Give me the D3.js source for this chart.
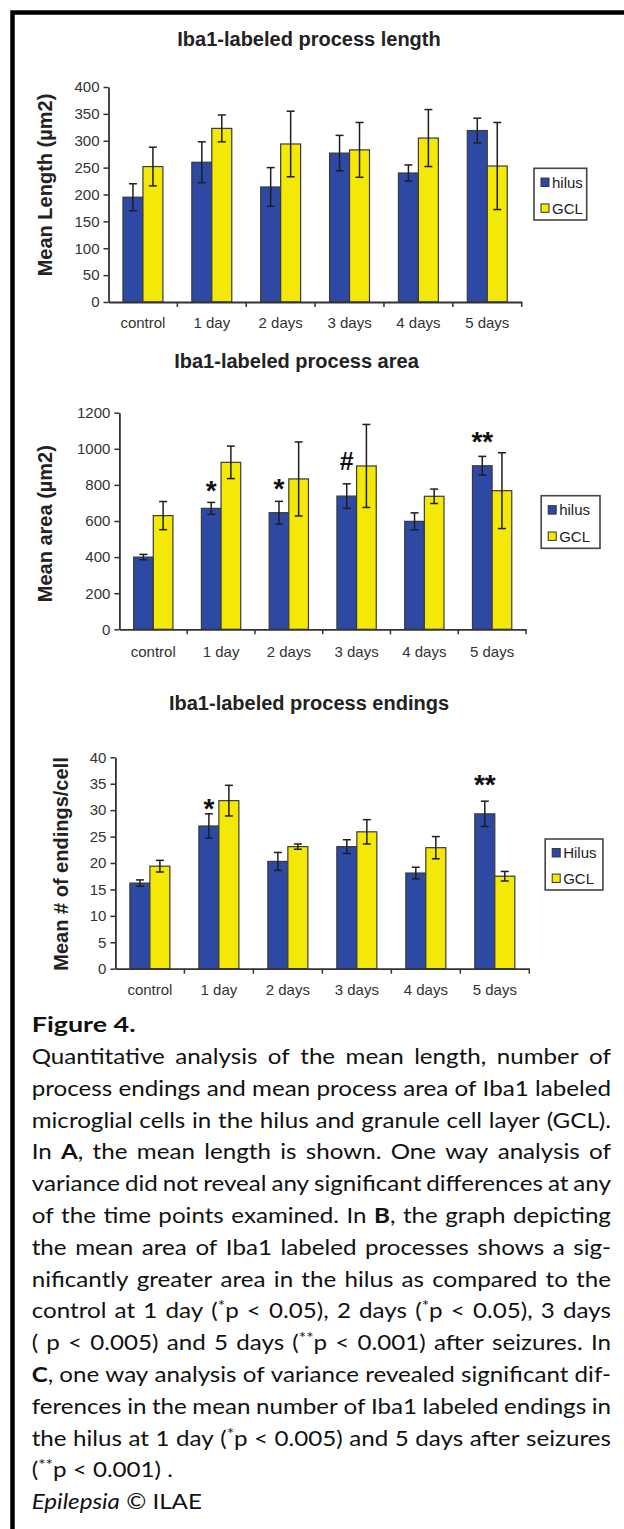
<!DOCTYPE html>
<html><head><meta charset="utf-8">
<script src="https://cdn.jsdelivr.net/npm/d3@7"></script>
<style>
html,body{margin:0;padding:0;background:#fff;}
svg{display:block;}
</style></head><body>
<svg id="fig" width="624" height="1529"></svg>
<script>
// ---------- DATA ----------
const categories = ["control", "1 day", "2 days", "3 days", "4 days", "5 days"];

// Panel A: process length
const lengthHilus    = [195, 260, 214, 277, 240, 319];
const lengthHilusErr = [25, 38, 36, 33, 15, 23];
const lengthGCL      = [252, 323, 294, 283, 305, 253];
const lengthGCLErr   = [36, 25, 61, 51, 53, 81];
const lengthTicks    = [0, 50, 100, 150, 200, 250, 300, 350, 400];
const lengthLegend   = ["hilus", "GCL"];
const lengthMarks    = [];

// Panel B: process area
const areaHilus    = [400, 670, 646, 738, 598, 906];
const areaHilusErr = [15, 33, 63, 68, 47, 52];
const areaGCL      = [630, 925, 833, 905, 737, 768];
const areaGCLErr   = [78, 90, 205, 230, 40, 210];
const areaTicks    = [0, 200, 400, 600, 800, 1000, 1200];
const areaLegend   = ["hilus", "GCL"];
const areaMarks    = [
  {cat: "1 day", label: "*", value: 810},
  {cat: "2 days", label: "*", value: 818},
  {cat: "3 days", label: "#", value: 935},
  {cat: "5 days", label: "**", value: 1080}
];

// Panel C: process endings
const endHilus    = [16.2, 27.0, 20.3, 23.1, 18.1, 29.3];
const endHilusErr = [0.6, 2.3, 1.7, 1.3, 1.1, 2.4];
const endGCL      = [19.4, 31.8, 23.1, 25.9, 22.9, 17.5];
const endGCLErr   = [1.1, 2.9, 0.5, 2.3, 2.1, 0.9];
const endTicks    = [0, 5, 10, 15, 20, 25, 30, 35, 40];
const endLegend   = ["Hilus", "GCL"];
const endMarks    = [
  {cat: "1 day", label: "*", value: 31.6},
  {cat: "5 days", label: "**", value: 36.3}
];

// Caption
const captionTitle = "Figure 4.";
const captionLines = [
  "Quantitative analysis of the mean length, number of",
  "process endings and mean process area of Iba1 labeled",
  "microglial cells in the hilus and granule cell layer (GCL).",
  "In {b:A}, the mean length is shown. One way analysis of",
  "variance did not reveal any significant differences at any",
  "of the time points examined. In {b:B}, the graph depicting",
  "the mean area of Iba1 labeled processes shows a sig-",
  "nificantly greater area in the hilus as compared to the",
  "control at 1 day ({s:*}p < 0.05), 2 days ({s:*}p < 0.05), 3 days",
  "( p < 0.005) and 5 days ({s:**}p < 0.001) after seizures. In",
  "{b:C}, one way analysis of variance revealed significant dif-",
  "ferences in the mean number of Iba1 labeled endings in",
  "the hilus at 1 day ({s:*}p < 0.005) and 5 days after seizures",
  "({s:**}p < 0.001) .",
  "{i:Epilepsia} © ILAE"
];
const justifiedCount = 13;

// ---------- STYLE ----------
const FONT = "'Liberation Sans', Arial, sans-serif";
const CAPFONT = "Lato, 'Noto Sans', sans-serif";
const BLUE = "#2d49a3";
const YELLOW = "#f4e906";
const INK = "#222";

const svg = d3.select("#fig");
svg.append("rect").attr("width", 624).attr("height", 1529).attr("fill", "#fff");

// frame
svg.append("path").attr("d", "M12.5,1529V12.5H624")
  .attr("fill", "none").attr("stroke", "#000").attr("stroke-width", 4.5);

const panels = [
  {title: "Iba1-labeled process length", titleX: 309, titleY: 46,
   ylabel: "Mean Length (\u00b5m2)", ylabelX: 51.5, ylabelY: 185,
   left: 108.5, right: 521.7, yBottom: 302, yTop: 87, max: 400, ticks: lengthTicks,
   hilus: lengthHilus, hilusErr: lengthHilusErr, gcl: lengthGCL, gclErr: lengthGCLErr,
   xlabelY: 328, legendLabels: lengthLegend, legend: {x: 534, y: 168.3, w: 52.7, h: 51.7},
   marks: lengthMarks},
  {title: "Iba1-labeled process area", titleX: 296.5, titleY: 367.5,
   ylabel: "Mean area (\u00b5m2)", ylabelX: 51.5, ylabelY: 523.7,
   left: 119.4, right: 526, yBottom: 629.3, yTop: 412.7, max: 1200, ticks: areaTicks,
   hilus: areaHilus, hilusErr: areaHilusErr, gcl: areaGCL, gclErr: areaGCLErr,
   xlabelY: 657, legendLabels: areaLegend, legend: {x: 541.2, y: 495.7, w: 58.8, h: 52.6},
   marks: areaMarks},
  {title: "Iba1-labeled process endings", titleX: 309, titleY: 710,
   ylabel: "Mean # of endings/cell", ylabelX: 67.5, ylabelY: 864,
   left: 115.4, right: 529.3, yBottom: 968.7, yTop: 757.3, max: 40, ticks: endTicks,
   hilus: endHilus, hilusErr: endHilusErr, gcl: endGCL, gclErr: endGCLErr,
   xlabelY: 995, legendLabels: endLegend, legend: {x: 545.2, y: 839, w: 57.7, h: 51},
   marks: endMarks}
];

function drawPanel(cfg) {
  const g = svg.append("g");
  const x = d3.scaleBand().domain(categories).range([cfg.left, cfg.right]).padding(0);
  const y = d3.scaleLinear().domain([0, cfg.max]).range([cfg.yBottom, cfg.yTop]);
  const bw = x.bandwidth();
  const barW = bw * 0.29;

  g.append("text").attr("x", cfg.titleX).attr("y", cfg.titleY)
    .attr("text-anchor", "middle").attr("font-family", FONT)
    .attr("font-weight", "bold").attr("font-size", 20).attr("fill", INK)
    .text(cfg.title);

  g.append("text")
    .attr("transform", `translate(${cfg.ylabelX},${cfg.ylabelY}) rotate(-90)`)
    .attr("text-anchor", "middle").attr("font-family", FONT)
    .attr("font-weight", "bold").attr("font-size", 20).attr("fill", INK)
    .text(cfg.ylabel);

  const series = [
    {vals: cfg.hilus, errs: cfg.hilusErr, color: BLUE, off: -1},
    {vals: cfg.gcl, errs: cfg.gclErr, color: YELLOW, off: 0}
  ];

  series.forEach(s => {
    const d = categories.map((c, i) => ({c, v: s.vals[i], e: s.errs[i]}));
    g.append("g").selectAll("rect").data(d).enter().append("rect")
      .attr("x", k => x(k.c) + bw / 2 + s.off * barW)
      .attr("y", k => y(k.v))
      .attr("width", barW)
      .attr("height", k => y(0) - y(k.v))
      .attr("fill", s.color).attr("stroke", "#3a3a3a").attr("stroke-width", 1.2);
  });

  series.forEach(s => {
    const d = categories.map((c, i) => ({c, v: s.vals[i], e: s.errs[i]}));
    const eg = g.append("g").attr("stroke", "#1e1e1e").attr("stroke-width", 1.5);
    const cx = k => x(k.c) + bw / 2 + s.off * barW + barW / 2;
    eg.selectAll(".v").data(d).enter().append("line")
      .attr("x1", cx).attr("x2", cx)
      .attr("y1", k => y(k.v + k.e)).attr("y2", k => y(k.v - k.e));
    eg.selectAll(".t").data(d).enter().append("line")
      .attr("x1", k => cx(k) - 4).attr("x2", k => cx(k) + 4)
      .attr("y1", k => y(k.v + k.e)).attr("y2", k => y(k.v + k.e));
    eg.selectAll(".b").data(d).enter().append("line")
      .attr("x1", k => cx(k) - 4).attr("x2", k => cx(k) + 4)
      .attr("y1", k => y(k.v - k.e)).attr("y2", k => y(k.v - k.e));
  });

  const ya = g.append("g").attr("transform", `translate(${cfg.left},0)`)
    .call(d3.axisLeft(y).tickValues(cfg.ticks).tickSize(5).tickSizeOuter(0)
      .tickPadding(4).tickFormat(d3.format("d")));
  ya.attr("font-family", FONT).attr("font-size", 15);
  ya.select(".domain").attr("stroke", "#333").attr("stroke-width", 1.8);
  ya.selectAll(".tick line").attr("stroke", "#333").attr("stroke-width", 1.5);
  ya.selectAll(".tick text").attr("fill", "#333");

  const pad = cfg.xlabelY - cfg.yBottom - 0.71 * 15;
  const xa = g.append("g").attr("transform", `translate(0,${cfg.yBottom})`)
    .call(d3.axisBottom(x).tickSize(0).tickSizeOuter(0).tickPadding(pad));
  xa.attr("font-family", FONT).attr("font-size", 15);
  xa.select(".domain").attr("stroke", "#333").attr("stroke-width", 1.8);
  xa.selectAll(".tick text").attr("fill", "#333");
  g.append("g").selectAll("line").data(categories).enter().append("line")
    .attr("x1", c => x(c) + bw).attr("x2", c => x(c) + bw)
    .attr("y1", cfg.yBottom).attr("y2", cfg.yBottom + 5)
    .attr("stroke", "#333").attr("stroke-width", 1.5);

  g.append("g").selectAll("text").data(cfg.marks).enter().append("text")
    .attr("x", m => x(m.cat) + bw / 2 - barW / 2)
    .attr("y", m => y(m.value))
    .attr("dy", m => m.label === "#" ? "0.36em" : "0.6em")
    .attr("text-anchor", "middle").attr("font-family", FONT)
    .attr("font-weight", "bold").attr("font-size", m => m.label === "#" ? 25 : 28)
    .attr("fill", "#111")
    .text(m => m.label);

  const L = cfg.legend;
  const lg = g.append("g");
  lg.append("rect").attr("x", L.x).attr("y", L.y).attr("width", L.w).attr("height", L.h)
    .attr("fill", "#fff").attr("stroke", "#444").attr("stroke-width", 1.6);
  const rows = [L.y + L.h * 0.27, L.y + L.h * 0.77];
  const colors = [BLUE, YELLOW];
  cfg.legendLabels.forEach((lab, i) => {
    lg.append("rect").attr("x", L.x + 7).attr("y", rows[i] - 4.2)
      .attr("width", 8).attr("height", 8.4)
      .attr("fill", colors[i]).attr("stroke", "#333").attr("stroke-width", 1);
    lg.append("text").attr("x", L.x + 18).attr("y", rows[i]).attr("dy", "0.36em")
      .attr("font-family", FONT).attr("font-size", 15).attr("fill", INK).text(lab);
  });
}

panels.forEach(drawPanel);

// ---------- CAPTION ----------
const capLeft = 31.7, capRight = 611;
const capSX = 1.16;            // horizontal stretch of the caption type
const layoutW = (capRight - capLeft) / capSX;
let capFS = 21;

function parseWord(w) {
  const segs = [];
  const re = /\{(b|i|s):([^}]*)\}|([^{]+)/g;
  let m;
  while ((m = re.exec(w))) {
    if (m[3] !== undefined) segs.push({t: m[3], k: "n"});
    else segs.push({t: m[2], k: m[1]});
  }
  return segs;
}

function styleText(sel, fs) {
  return sel.attr("font-family", CAPFONT).attr("font-size", fs).attr("fill", "#111");
}

function appendSegs(textSel, segs, fs, xPos, state) {
  segs.forEach((s, i) => {
    const ts = textSel.append("tspan").text(s.t);
    if (i === 0 && xPos !== undefined) ts.attr("x", xPos);
    const target = s.k === "s" ? -fs * 0.34 : 0;
    if (target !== state.shift) { ts.attr("dy", target - state.shift); state.shift = target; }
    if (s.k === "b") ts.attr("font-weight", "bold");
    if (s.k === "i") ts.attr("font-style", "italic");
    if (s.k === "s") ts.attr("font-size", fs * 0.72);
  });
}

function measure(segs, fs) {
  const t = styleText(svg.append("text"), fs);
  appendSegs(t, segs, fs, undefined, {shift: 0});
  const w = t.node().getComputedTextLength();
  t.remove();
  return w;
}

const lineWords = captionLines.map(l => l.split(" ").map(parseWord));

function minSpace(fs) { return fs * 0.2; }
for (let iter = 0; iter < 10; iter++) {
  let worst = 0;
  lineWords.slice(0, justifiedCount).forEach(words => {
    const tot = d3.sum(words, w => measure(w, capFS)) + minSpace(capFS) * (words.length - 1);
    worst = Math.max(worst, tot);
  });
  if (worst <= layoutW) break;
  capFS = capFS * layoutW / worst;
}

const spaceW = (() => {
  const a = styleText(svg.append("text"), capFS).text("x x");
  const b = styleText(svg.append("text"), capFS).text("xx");
  const w = a.node().getComputedTextLength() - b.node().getComputedTextLength();
  a.remove(); b.remove();
  return w;
})();

// caption heading
styleText(svg.append("text"), 21)
  .attr("transform", `translate(${capLeft},1031.5) scale(1.28,1)`)
  .attr("font-weight", "bold").text(captionTitle);

const capG = svg.append("g").attr("transform", `translate(${capLeft},0) scale(${capSX},1)`);
const lineY0 = 1064, lineStep = 31.8;
lineWords.forEach((words, li) => {
  const widths = words.map(w => measure(w, capFS));
  const total = d3.sum(widths);
  const gap = li < justifiedCount && words.length > 1
    ? (layoutW - total) / (words.length - 1)
    : spaceW;
  const t = styleText(capG.append("text"), capFS).attr("y", lineY0 + li * lineStep);
  const state = {shift: 0};
  let xPos = 0;
  words.forEach((w, wi) => {
    appendSegs(t, w, capFS, xPos, state);
    xPos += widths[wi] + gap;
  });
});
</script>
</body></html>
